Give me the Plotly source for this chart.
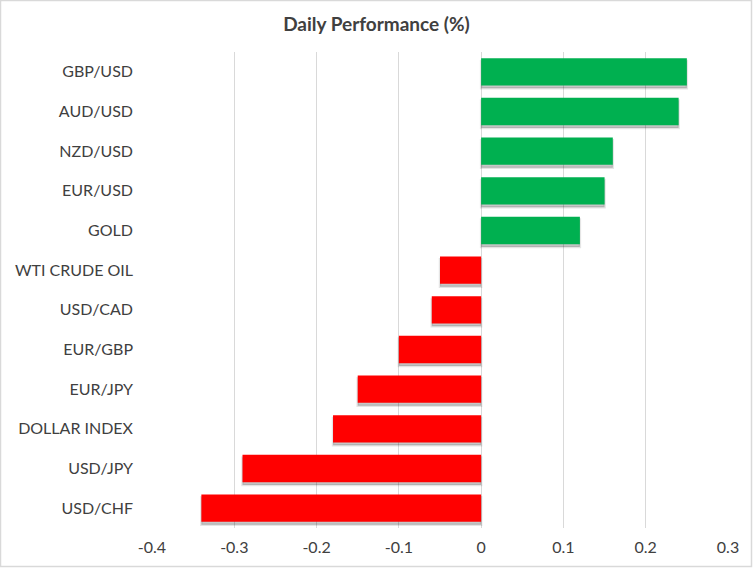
import plotly.graph_objects as go

categories = ["GBP/USD", "AUD/USD", "NZD/USD", "EUR/USD", "GOLD", "WTI CRUDE OIL",
              "USD/CAD", "EUR/GBP", "EUR/JPY", "DOLLAR INDEX", "USD/JPY", "USD/CHF"]
values = [0.25, 0.24, 0.16, 0.15, 0.12, -0.05, -0.06, -0.10, -0.15, -0.18, -0.29, -0.34]
tick_vals = [-0.4, -0.3, -0.2, -0.1, 0, 0.1, 0.2, 0.3]
tick_text = ["-0.4", "-0.3", "-0.2", "-0.1", "0", "0.1", "0.2", "0.3"]

colors = ["#00B050" if v >= 0 else "#FF0000" for v in values]

W, H = 753, 568
ml, mr, mt, mb = 152, 25, 52, 40
pw, ph = W - ml - mr, H - mt - mb

bw = 0.69
fig = go.Figure()
# soft drop shadow
fig.add_trace(go.Bar(
    y=categories, x=values, orientation="h",
    width=bw, offset=-bw / 2 + 0.07,
    marker=dict(color="rgba(0,0,0,0.22)", line=dict(width=2.5, color="rgba(0,0,0,0.10)")),
    showlegend=False, hoverinfo="skip",
))
fig.add_trace(go.Bar(
    y=categories, x=values, orientation="h",
    width=bw, offset=-bw / 2,
    marker=dict(color=colors, line=dict(width=0)),
    showlegend=False,
))

fig.update_layout(
    width=W, height=H,
    margin=dict(l=ml, r=mr, t=mt, b=mb),
    paper_bgcolor="white", plot_bgcolor="white",
    barmode="overlay",
    title=dict(text="<b>Daily Performance (%)</b>", x=0.5, xanchor="center",
               y=1 - 24 / H, yanchor="middle",
               font=dict(family="Lato", size=19, color="#404040")),
    font=dict(family="Lato", size=16, color="#404040"),
    xaxis=dict(range=[-0.4, 0.3], tickvals=tick_vals, ticktext=tick_text,
               showgrid=True, gridcolor="#D9D9D9", gridwidth=1,
               zeroline=False, showline=False, ticks="", ticklabelstandoff=8,
               fixedrange=True),
    yaxis=dict(autorange="reversed", showgrid=False, zeroline=False, showline=False,
               ticks="", ticklabelstandoff=18, fixedrange=True),
    shapes=[dict(type="rect", xref="paper", yref="paper",
                 x0=-(ml - 0.5) / pw, x1=1 + (mr - 1.5) / pw,
                 y0=-(mb - 1.5) / ph, y1=1 + (mt - 0.5) / ph,
                 line=dict(color="#D9D9D9", width=1.5), layer="below")],
)

fig.write_html("out.html", config={"displayModeBar": False},
               post_script="document.body.style.margin='0';document.body.style.overflow='hidden';")
